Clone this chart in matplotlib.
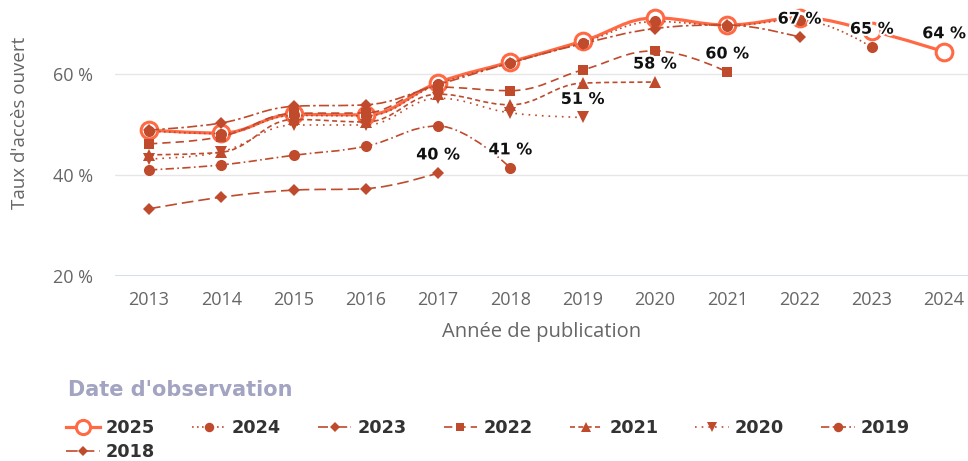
import matplotlib.pyplot as plt
import matplotlib.patheffects as pe
from matplotlib.path import Path
from matplotlib.patches import PathPatch
from matplotlib.lines import Line2D

plt.rcParams['font.family'] = ['Open Sans', 'DejaVu Sans']

years = [2013, 2014, 2015, 2016, 2017, 2018, 2019, 2020, 2021, 2022, 2023, 2024]

obs_2025 = [48.9, 48.3, 52.0, 51.9, 58.3, 62.4, 66.5, 71.1, 69.7, 71.1, 68.5, 64.4]
obs_2024 = [48.7, 48.2, 51.8, 51.7, 58.0, 62.2, 66.2, 70.4, 69.6, 70.7, 65.3]
obs_2023 = [48.9, 50.3, 53.6, 53.9, 57.9, 62.2, 66.0, 69.0, 69.7, 67.3]
obs_2022 = [46.2, 47.6, 52.2, 52.3, 57.4, 56.7, 60.8, 64.6, 60.4]
obs_2021 = [44.0, 44.5, 51.0, 50.5, 56.0, 53.9, 58.2, 58.4]
obs_2020 = [43.2, 44.6, 49.9, 49.9, 55.2, 52.3, 51.4]
obs_2019 = [41.0, 42.0, 43.9, 45.7, 49.7, 41.4]
obs_2018 = [33.3, 35.6, 37.0, 37.3, 40.4]

labels = ['2025', '2024', '2023', '2022', '2021', '2020', '2019', '2018']
series = [obs_2025, obs_2024, obs_2023, obs_2022, obs_2021, obs_2020, obs_2019, obs_2018]

light = '#ff6a45'
dark = '#bf4a2c'
styles = [
    dict(color=light, lw=2.3, ls='-', marker='o', ms=12, mfc='white', mew=2.2),
    dict(color=dark, lw=1.2, ls=(0, (1, 2)), marker='o', ms=8, mfc=dark, mew=0),
    dict(color=dark, lw=1.2, ls=(0, (6, 2, 1.5, 2)), marker='D', ms=6.5, mfc=dark, mew=0),
    dict(color=dark, lw=1.2, ls=(0, (5, 3)), marker='s', ms=7.5, mfc=dark, mew=0),
    dict(color=dark, lw=1.2, ls=(0, (3, 2)), marker='^', ms=8, mfc=dark, mew=0),
    dict(color=dark, lw=1.2, ls=(0, (1, 3)), marker='v', ms=8, mfc=dark, mew=0),
    dict(color=dark, lw=1.2, ls=(0, (5, 2, 1, 2)), marker='o', ms=8, mfc=dark, mew=0),
    dict(color=dark, lw=1.2, ls=(0, (7, 3)), marker='D', ms=6.5, mfc=dark, mew=0),
]


def spline_path(xs, ys):
    # highcharts-like spline control points
    n = len(xs)
    conts = []
    for i in range(n):
        x, y = xs[i], ys[i]
        if i == 0 or i == n - 1:
            conts.append(((x, y), (x, y)))
            continue
        lx = (1.5 * x + xs[i - 1]) / 2.5
        ly = (1.5 * y + ys[i - 1]) / 2.5
        rx = (1.5 * x + xs[i + 1]) / 2.5
        ry = (1.5 * y + ys[i + 1]) / 2.5
        corr = ((ry - ly) * (rx - x)) / (rx - lx) + y - ry
        ly += corr
        ry += corr
        if ly > ys[i - 1] and ly > y:
            ly = max(ys[i - 1], y)
            ry = 2 * y - ly
        elif ly < ys[i - 1] and ly < y:
            ly = min(ys[i - 1], y)
            ry = 2 * y - ly
        if ry > ys[i + 1] and ry > y:
            ry = max(ys[i + 1], y)
            ly = 2 * y - ry
        elif ry < ys[i + 1] and ry < y:
            ry = min(ys[i + 1], y)
            ly = 2 * y - ry
        conts.append(((lx, ly), (rx, ry)))
    verts = [(xs[0], ys[0])]
    codes = [Path.MOVETO]
    for i in range(1, n):
        verts += [conts[i - 1][1], conts[i][0], (xs[i], ys[i])]
        codes += [Path.CURVE4] * 3
    return Path(verts, codes)


fig = plt.figure(figsize=(9.68, 4.61), dpi=100)
ax = fig.add_axes([115 / 968, 1 - 276 / 461, 853 / 968, 276 / 461])

handles = []
for k, (vals, st) in enumerate(zip(series, styles)):
    xs = years[:len(vals)]
    z = 2 + k
    patch = PathPatch(spline_path(xs, vals), fill=False, edgecolor=st['color'],
                      lw=st['lw'], linestyle=st['ls'], zorder=z, capstyle='butt')
    ax.add_patch(patch)
    ax.plot(xs, vals, linestyle='none', marker=st['marker'], ms=st['ms'],
            mfc=st['mfc'], mec=st['color'], mew=st['mew'], zorder=z)
    handles.append(Line2D([], [], color=st['color'], lw=st['lw'], linestyle=st['ls'],
                          marker=st['marker'], ms=st['ms'] * 0.85, mfc=st['mfc'],
                          mec=st['color'], mew=st['mew']))
    ax.annotate(f"{round(vals[-1])} %", (xs[-1], vals[-1]), xytext=(0, 13),
                textcoords='offset points', ha='center', va='center',
                fontsize=11.5, fontweight='bold', family='DejaVu Sans', color='#111111',
                zorder=20, path_effects=[pe.withStroke(linewidth=3, foreground='white')])

ax.set_xlim(2012.53, 2024.33)
ax.set_ylim(20, 74.65)
ax.set_yticks([20, 40, 60])
ax.set_yticklabels(['20 %', '40 %', '60 %'])
ax.set_xticks(years)
ax.grid(axis='y', color='#e6e6e6', lw=1)
ax.axhline(20, color='#ccd6eb', lw=1.2, zorder=1)
for s in ax.spines.values():
    s.set_visible(False)
ax.tick_params(length=0, labelsize=13, labelcolor='#666666')
ax.tick_params(axis='y', pad=16)
ax.tick_params(axis='x', pad=11)
ax.set_xlabel('Année de publication', fontsize=14.5, color='#666666', labelpad=9)
ax.set_ylabel("Taux d'accès ouvert", fontsize=13.5, color='#666666')
ax.yaxis.set_label_coords(-0.101, 0.555)

# legend: fill row by row (matplotlib fills column-wise)
order = [0, 7, 1, 2, 3, 4, 5, 6]
leg = fig.legend([handles[i] for i in order], [labels[i] for i in order], ncol=7,
                 loc='upper left', bbox_to_anchor=(66 / 968, 1 - 419 / 461),
                 frameon=False, handlelength=1.9, handletextpad=0.35, columnspacing=2.1,
                 labelspacing=0.35, borderpad=0, borderaxespad=0,
                 prop={'family': 'DejaVu Sans', 'weight': 'bold', 'size': 12.7})
for t in leg.get_texts():
    t.set_color('#333333')
fig.text(68 / 968, 1 - 390 / 461, "Date d'observation", ha='left', va='center',
         family='DejaVu Sans', fontweight='bold', fontsize=15, color='#a3a3c2')

fig.savefig('out.png', dpi=100)
